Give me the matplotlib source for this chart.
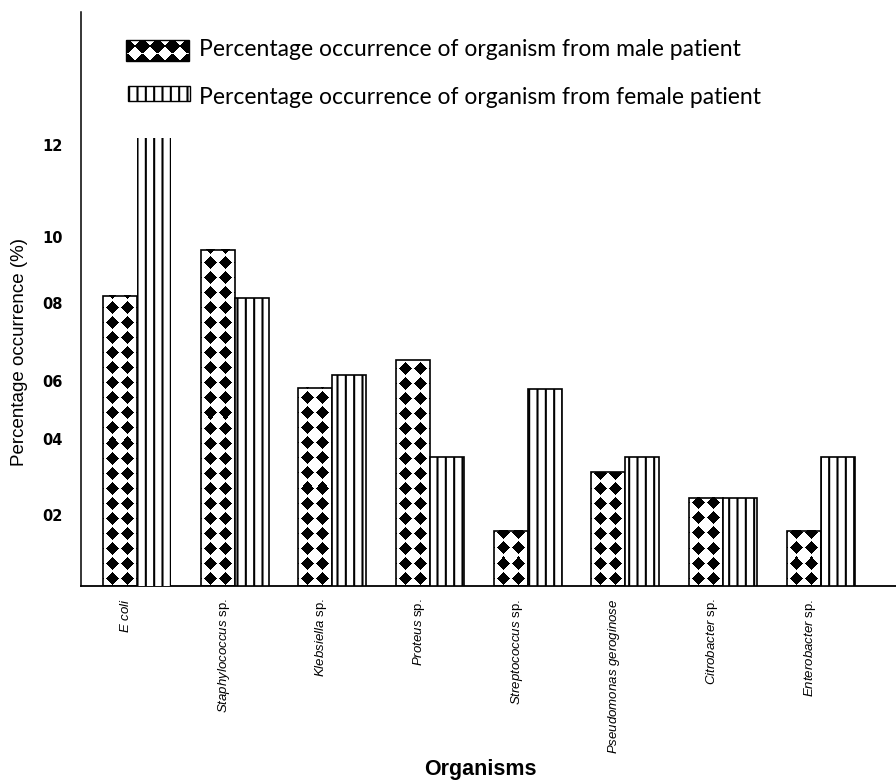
import numpy as np
import matplotlib
matplotlib.use("Agg")
import matplotlib.pyplot as plt
from matplotlib.patches import Rectangle
from matplotlib.transforms import ScaledTranslation

plt.rcParams['mathtext.fontset'] = 'custom'
plt.rcParams['mathtext.it'] = 'Liberation Sans:italic'
plt.rcParams['mathtext.rm'] = 'Liberation Sans'
plt.rcParams['hatch.linewidth'] = 1.5

organisms = [r"$\it{E\ coli}$", r"$\it{Staphylococcus}$ sp.", r"$\it{Klebsiella}$ sp.",
             r"$\it{Proteus}$ sp.", r"$\it{Streptococcus}$ sp.", r"$\it{Pseudomonas\ geroginose}$",
             r"$\it{Citrobacter}$ sp.", r"$\it{Enterobacter}$ sp."]
male = [7.9, 9.15, 5.4, 6.15, 1.5, 3.1, 2.4, 1.5]
female = [12.2, 7.85, 5.75, 3.5, 5.35, 3.5, 2.4, 3.5]
ytick_pos = [1.93, 4.0, 5.58, 7.7, 9.5, 12.0]
ytick_lab = ["02", "04", "06", "08", "10", "12"]
legend_lab = ["Percentage occurrence of organism from male patient",
              "Percentage occurrence of organism from female patient"]


def diamonds(w, h, period=15.0, r=6.5, p=0.9, invert=False):
    # black 4-point diamonds on white, columns centred on the bar
    yy, xx = np.mgrid[0:h, 0:w] + 0.5
    c0 = w / 2 + period / 2
    dx = (xx - c0 + period / 2) % period - period / 2
    dy = yy % period - period / 2
    d = np.abs(dx) ** p + np.abs(dy) ** p
    ink = d <= r ** p
    if invert:
        return ink.astype(float)
    return 1.0 - ink


W, H = 896, 784
fig = plt.figure(figsize=(W / 100, H / 100), dpi=100)
ax = fig.add_axes([81 / W, 198 / H, 1 - 81 / W, 574 / H])

x = np.arange(len(organisms))
bw = 0.348
ax.set_xlim(-0.573, 7.77)
ax.set_ylim(0, 15.62)

bars_m = ax.bar(x - bw / 2, male, bw, facecolor='none', edgecolor='black', linewidth=1.2, zorder=3)
bars_f = ax.bar(x + bw / 2, female, bw, facecolor='white', edgecolor='black', linewidth=1.2,
                hatch='||', zorder=3)
bars_f[0].set_linewidth(0)

for rect in bars_m:
    x0, y0 = rect.get_x(), rect.get_y()
    x1, y1 = x0 + rect.get_width(), y0 + rect.get_height()
    p0 = ax.transData.transform((x0, y0))
    p1 = ax.transData.transform((x1, y1))
    wpx = max(int(round(p1[0] - p0[0])), 1)
    hpx = max(int(round(p1[1] - p0[1])), 1)
    ax.imshow(diamonds(wpx, hpx), extent=[x0, x1, y0, y1], origin='lower', cmap='gray',
              vmin=0, vmax=1, aspect='auto', interpolation='nearest', zorder=2)

ax.set_xlim(-0.573, 7.77)
ax.set_ylim(0, 15.62)

ax.spines['top'].set_visible(False)
ax.spines['right'].set_visible(False)
ax.spines['left'].set_linewidth(1.1)
ax.spines['bottom'].set_linewidth(1.3)

ax.set_yticks(ytick_pos)
ax.set_yticklabels(ytick_lab, fontweight='bold', fontsize=10.5, family='DejaVu Sans')
ax.tick_params(axis='y', length=0, pad=13)

ax.set_xticks(x)
ax.set_xticklabels(organisms, rotation=90, fontsize=9.5, family='Liberation Sans',
                   ha='center', va='top')
ax.tick_params(axis='x', length=0, pad=9)
shift = ScaledTranslation(-11 / 100, 0, fig.dpi_scale_trans)
for lbl in ax.get_xticklabels():
    lbl.set_transform(lbl.get_transform() + shift)

# legend drawn by hand
fig.figimage(diamonds(63, 21, period=15.0, r=7.5, p=0.9, invert=True), xo=126, yo=H - 61,
             origin='lower', cmap='gray', vmin=0, vmax=1)
fig.add_artist(Rectangle((126 / W, (H - 61) / H), 63 / W, 21 / H, transform=fig.transFigure,
                         facecolor='none', edgecolor='black', linewidth=1.0))
fig.add_artist(Rectangle((128 / W, (H - 101) / H), 62 / W, 15 / H, transform=fig.transFigure,
                         facecolor='white', edgecolor='black', linewidth=1.0, hatch='||'))
fig.text(199 / W, 1 - 50 / H, legend_lab[0], fontsize=16.5, family='Lato', va='center')
fig.text(199 / W, 1 - 97 / H, legend_lab[1], fontsize=16.5, family='Lato', va='center')

fig.text(20 / W, 1 - 352 / H, "Percentage occurrence (%)", rotation=90, ha='center',
         va='center', fontsize=13.5, family='Liberation Sans')
fig.text(480 / W, 1 - 770 / H, "Organisms", ha='center', va='center', fontsize=15.5,
         fontweight='bold', family='Liberation Sans')

fig.savefig("out.png", dpi=100)
